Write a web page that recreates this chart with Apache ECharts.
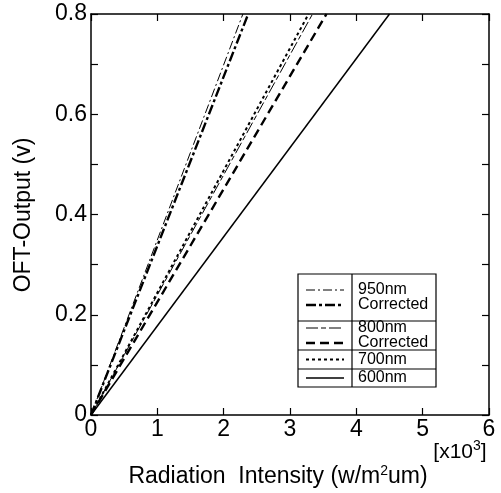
<!DOCTYPE html>
<html>
<head>
<meta charset="utf-8">
<script src="https://cdn.jsdelivr.net/npm/echarts@6/dist/echarts.min.js"></script>
<style>
html,body{margin:0;padding:0;background:#fff;}
#chart{width:501px;height:493px;}
</style>
</head>
<body>
<div id="chart"></div>
<script>
// ---- data ----
const seriesNames = ['950nm', '950nm Corrected', '800nm', '800nm Corrected', '700nm', '600nm'];
const line950 = [[0, 0], [2.29, 0.8]];
const line950Corrected = [[0, 0], [2.37, 0.8]];
const line800 = [[0, 0], [3.34, 0.8]];
const line800Corrected = [[0, 0], [3.55, 0.8]];
const line700 = [[0, 0], [3.28, 0.8]];
const line600 = [[0, 0], [4.5, 0.8]];
const xTicks = [0, 1, 2, 3, 4, 5, 6];
const yTickLabels = ['0', '0.2', '0.4', '0.6', '0.8'];

// ---- styles ----
const FONT = 'Liberation Sans, Arial, Helvetica, sans-serif';
const styles = [
  {width: 1, type: [9, 3, 2, 3]},
  {width: 2.4, type: [10, 3, 3, 3]},
  {width: 1, type: [12, 3, 5, 3]},
  {width: 2.4, type: [9, 5]},
  {width: 2, type: [3, 3]},
  {width: 1.5, type: 'solid'}
];
const datasets = [line950, line950Corrected, line800, line800Corrected, line700, line600];

const chart = echarts.init(document.getElementById('chart'), null, {renderer: 'canvas'});

function axisCommon() {
  return {
    axisLine: {show: true, onZero: false, lineStyle: {color: '#000', width: 1.5}},
    axisTick: {show: true, inside: true, length: 7, lineStyle: {color: '#000', width: 1.2}},
    splitLine: {show: false}
  };
}

function yLabel(v) {
  const k = Math.round(v * 10);
  if (k % 2 !== 0) return '';
  return yTickLabels[k / 2];
}

const legendLeft = 298, legendRight = 436, legendDiv = 352;
const rowEdges = [274, 321, 350, 369, 387];
const legendRows = [
  {texts: ['950nm', 'Corrected'], samples: [0, 1]},
  {texts: ['800nm', 'Corrected'], samples: [2, 3]},
  {texts: ['700nm'], samples: [4]},
  {texts: ['600nm'], samples: [5]}
];
const legendGraphics = [];
legendGraphics.push({type: 'rect', shape: {x: legendLeft, y: rowEdges[0], width: legendRight - legendLeft, height: rowEdges[4] - rowEdges[0]}, style: {fill: '#fff', stroke: '#000', lineWidth: 1.2}, z: 100});
legendGraphics.push({type: 'line', shape: {x1: legendDiv, y1: rowEdges[0], x2: legendDiv, y2: rowEdges[4]}, style: {stroke: '#000', lineWidth: 1.2}, z: 101});
for (let i = 1; i < 4; i++) {
  legendGraphics.push({type: 'line', shape: {x1: legendLeft, y1: rowEdges[i], x2: legendRight, y2: rowEdges[i]}, style: {stroke: '#000', lineWidth: 1.2}, z: 101});
}
legendRows.forEach((row, r) => {
  const top = rowEdges[r], bot = rowEdges[r + 1];
  const n = row.texts.length;
  const mid = (top + bot) / 2;
  const step = 15;
  row.texts.forEach((t, j) => {
    const cy = mid + (j - (n - 1) / 2) * step;
    legendGraphics.push({type: 'text', x: legendDiv + 6, y: cy, style: {text: t, font: '16px ' + FONT, fill: '#000', textVerticalAlign: 'middle', textAlign: 'left'}, z: 102});
    const st = styles[row.samples[j]];
    legendGraphics.push({type: 'line', shape: {x1: legendLeft + 8, y1: cy, x2: legendDiv - 8, y2: cy}, style: {stroke: '#000', lineWidth: st.width, lineDash: st.type === 'solid' ? null : st.type}, z: 102});
  });
});

const option = {
  animation: false,
  backgroundColor: '#fff',
  grid: {left: 91, right: 12, top: 14, bottom: 78, containLabel: false},
  xAxis: [
    Object.assign({type: 'value', min: 0, max: 6, interval: 1, position: 'bottom',
      axisLabel: {show: true, color: '#000', fontSize: 23, fontFamily: FONT, margin: 3,
        formatter: v => String(xTicks[Math.round(v)])}}, axisCommon()),
    Object.assign({type: 'value', min: 0, max: 6, interval: 1, position: 'top',
      axisLabel: {show: false}}, axisCommon())
  ],
  yAxis: [
    Object.assign({type: 'value', min: 0, max: 0.8, interval: 0.1, position: 'left',
      axisLabel: {show: true, color: '#000', fontSize: 23, fontFamily: FONT, margin: 4, formatter: yLabel}}, axisCommon()),
    Object.assign({type: 'value', min: 0, max: 0.8, interval: 0.1, position: 'right',
      axisLabel: {show: false}}, axisCommon())
  ],
  series: datasets.map((d, i) => ({
    name: seriesNames[i],
    type: 'line',
    data: d,
    symbol: 'none',
    xAxisIndex: 0,
    yAxisIndex: 0,
    lineStyle: {color: '#000', width: styles[i].width, type: styles[i].type},
    z: 10
  })),
  graphic: [
    {type: 'text', x: 278, y: 477, style: {
      text: '{n|Radiation  Intensity (w/m}{s|2}{n|um)}',
      textAlign: 'center', textVerticalAlign: 'middle',
      rich: {n: {fontSize: 23, fontFamily: FONT, color: '#000'},
             s: {fontSize: 14, fontFamily: FONT, padding: [0, 0, 12, 0], color: '#000'}}}},
    {type: 'text', x: 460, y: 452, style: {
      text: '{n|[x10}{s|3}{n|]}',
      textAlign: 'center', textVerticalAlign: 'middle',
      rich: {n: {fontSize: 21, fontFamily: FONT, color: '#000'},
             s: {fontSize: 14, fontFamily: FONT, padding: [0, 0, 12, 0], color: '#000'}}}},
    {type: 'text', x: 24, y: 215, rotation: Math.PI / 2, style: {
      text: 'OFT-Output (v)', font: '23px ' + FONT, fill: '#000',
      textAlign: 'center', textVerticalAlign: 'middle'}}
  ].concat(legendGraphics)
};
chart.setOption(option);
</script>
</body>
</html>
